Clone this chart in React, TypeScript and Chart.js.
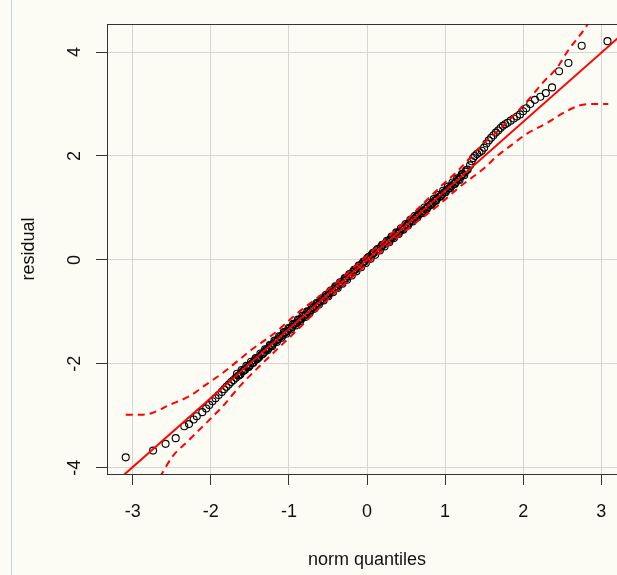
import React, { useEffect, useRef } from "react";
import { Chart, registerables } from "chart.js";

Chart.register(...registerables);

// Sample quantiles (sorted residuals) against theoretical normal quantiles
const lowerTailX = [-3.09, -2.74, -2.58, -2.45, -2.34, -2.28, -2.22, -2.18, -2.11, -2.06, -2.02, -1.98, -1.94, -1.9, -1.86, -1.83, -1.8, -1.77, -1.74, -1.71];
const lowerTailY = [-3.8, -3.67, -3.54, -3.43, -3.2, -3.16, -3.07, -3.01, -2.93, -2.86, -2.79, -2.72, -2.66, -2.6, -2.54, -2.49, -2.44, -2.4, -2.35, -2.31];

const bodyX = [
  -1.68, -1.65, -1.62, -1.59, -1.56, -1.53, -1.5, -1.47, -1.44, -1.41,
  -1.38, -1.35, -1.32, -1.29, -1.26, -1.23, -1.2, -1.17, -1.14, -1.11,
  -1.08, -1.05, -1.02, -0.99, -0.96, -0.93, -0.9, -0.87, -0.84, -0.81,
  -0.78, -0.75, -0.72, -0.69, -0.66, -0.63, -0.6, -0.57, -0.54, -0.51,
  -0.48, -0.45, -0.42, -0.39, -0.36, -0.33, -0.3, -0.27, -0.24, -0.21,
  -0.18, -0.15, -0.12, -0.09, -0.06, -0.03, 0.0, 0.03, 0.06, 0.09,
  0.12, 0.15, 0.18, 0.21, 0.24, 0.27, 0.3, 0.33, 0.36, 0.39,
  0.42, 0.45, 0.48, 0.51, 0.54, 0.57, 0.6, 0.63, 0.66, 0.69,
  0.72, 0.75, 0.78, 0.81, 0.84, 0.87, 0.9, 0.93, 0.96, 0.99,
  1.02, 1.05, 1.08, 1.11, 1.14, 1.17, 1.2, 1.23, 1.26, 1.29,
];
const bodyY = [
  -2.27, -2.23, -2.2, -2.14, -2.11, -2.06, -2.03, -1.99, -1.93, -1.91,
  -1.87, -1.82, -1.78, -1.73, -1.7, -1.65, -1.61, -1.56, -1.53, -1.48,
  -1.45, -1.4, -1.37, -1.32, -1.29, -1.24, -1.21, -1.16, -1.13, -1.08,
  -1.05, -1.0, -0.97, -0.92, -0.89, -0.84, -0.8, -0.77, -0.72, -0.69,
  -0.64, -0.6, -0.56, -0.52, -0.48, -0.44, -0.4, -0.36, -0.31, -0.27,
  -0.23, -0.19, -0.15, -0.11, -0.07, -0.03, 0.02, 0.06, 0.1, 0.14,
  0.18, 0.21, 0.25, 0.29, 0.32, 0.36, 0.4, 0.44, 0.47, 0.51,
  0.55, 0.59, 0.63, 0.67, 0.71, 0.75, 0.79, 0.83, 0.87, 0.91,
  0.94, 0.98, 1.02, 1.06, 1.1, 1.14, 1.18, 1.22, 1.26, 1.3,
  1.34, 1.38, 1.42, 1.46, 1.5, 1.55, 1.6, 1.65, 1.7, 1.74,
];

// interleaved observations of the dense central part
const bodyX2 = [
  -1.665, -1.635, -1.605, -1.575, -1.545, -1.515, -1.485, -1.455, -1.425, -1.395,
  -1.365, -1.335, -1.305, -1.275, -1.245, -1.215, -1.185, -1.155, -1.125, -1.095,
  -1.065, -1.035, -1.005, -0.975, -0.945, -0.915, -0.885, -0.855, -0.825, -0.795,
  -0.765, -0.735, -0.705, -0.675, -0.645, -0.615, -0.585, -0.555, -0.525, -0.495,
  -0.465, -0.435, -0.405, -0.375, -0.345, -0.315, -0.285, -0.255, -0.225, -0.195,
  -0.165, -0.135, -0.105, -0.075, -0.045, -0.015, 0.015, 0.045, 0.075, 0.105,
  0.135, 0.165, 0.195, 0.225, 0.255, 0.285, 0.315, 0.345, 0.375, 0.405,
  0.435, 0.465, 0.495, 0.525, 0.555, 0.585, 0.615, 0.645, 0.675, 0.705,
  0.735, 0.765, 0.795, 0.825, 0.855, 0.885, 0.915, 0.945, 0.975, 1.005,
  1.035, 1.065, 1.095, 1.125, 1.155, 1.185, 1.215, 1.245, 1.275,
];
const bodyY2 = [
  -2.19, -2.22, -2.12, -2.13, -2.04, -2.06, -1.96, -1.98, -1.89, -1.89,
  -1.8, -1.81, -1.72, -1.74, -1.64, -1.66, -1.55, -1.58, -1.47, -1.5,
  -1.39, -1.42, -1.31, -1.34, -1.23, -1.26, -1.15, -1.18, -1.07, -1.1,
  -0.99, -1.02, -0.91, -0.94, -0.83, -0.86, -0.75, -0.78, -0.67, -0.7,
  -0.59, -0.62, -0.51, -0.54, -0.43, -0.46, -0.35, -0.38, -0.27, -0.3,
  -0.19, -0.22, -0.11, -0.14, -0.03, -0.06, 0.05, 0.02, 0.13, 0.1,
  0.21, 0.18, 0.29, 0.26, 0.37, 0.34, 0.45, 0.42, 0.53, 0.5,
  0.61, 0.58, 0.69, 0.66, 0.77, 0.74, 0.85, 0.82, 0.93, 0.9,
  1.01, 0.98, 1.09, 1.06, 1.17, 1.14, 1.25, 1.22, 1.33, 1.3,
  1.41, 1.38, 1.49, 1.46, 1.57, 1.54, 1.65, 1.63, 1.73,
];

const upperTailX = [1.32, 1.34, 1.36, 1.38, 1.41, 1.44, 1.47, 1.5, 1.53, 1.56, 1.59, 1.62, 1.65, 1.68, 1.71, 1.74, 1.77, 1.8, 1.84, 1.88, 1.92, 1.96, 2.0, 2.04, 2.09, 2.15, 2.22, 2.29, 2.37, 2.46, 2.58, 2.75, 3.08];
const upperTailY = [1.82, 1.9, 1.96, 2.0, 2.04, 2.07, 2.1, 2.16, 2.24, 2.3, 2.35, 2.4, 2.45, 2.49, 2.54, 2.58, 2.61, 2.64, 2.68, 2.72, 2.76, 2.8, 2.86, 2.92, 3.0, 3.08, 3.14, 3.21, 3.32, 3.63, 3.79, 4.12, 4.21];

// Reference line
const refLineX = [-3.5, 3.5];
const refLineY = [-4.65, 4.65];

// Confidence envelope
const upperBandX = [-3.09, -2.9, -2.76, -2.53, -2.27, -2.08, -1.86, -1.48, -1.16, -0.92, -0.5, 0.0, 0.5, 0.92, 1.16, 1.48, 1.66, 1.86, 2.06, 2.27, 2.43, 2.58, 2.76, 2.9, 3.08];
const upperBandY = [-2.98, -2.98, -2.95, -2.79, -2.62, -2.42, -2.19, -1.73, -1.38, -1.06, -0.57, 0.08, 0.76, 1.38, 1.71, 2.22, 2.46, 2.75, 3.07, 3.44, 3.69, 4.04, 4.39, 4.7, 5.1];
const lowerBandX = [-3.09, -2.74, -2.63, -2.49, -2.29, -2.1, -1.85, -1.61, -1.2, -0.9, -0.5, 0.0, 0.5, 0.92, 1.2, 1.48, 1.66, 1.85, 2.06, 2.3, 2.54, 2.72, 2.9, 3.09];
const lowerBandY = [-5.4, -4.39, -4.12, -3.78, -3.48, -3.2, -2.82, -2.4, -1.79, -1.36, -0.76, -0.08, 0.57, 1.06, 1.42, 1.74, 1.99, 2.21, 2.44, 2.63, 2.85, 2.97, 3.0, 3.0];

const xTicks = [-3, -2, -1, 0, 1, 2, 3];
const xTickLabels = ["-3", "-2", "-1", "0", "1", "2", "3"];
const yTicks = [-4, -2, 0, 2, 4];
const yTickLabels = ["-4", "-2", "0", "2", "4"];
const xTitle = "norm quantiles";
const yTitle = "residual";

const toPoints = (xs: number[], ys: number[]) => xs.map((x, i) => ({ x, y: ys[i] }));

export default function App() {
  const ref = useRef<HTMLCanvasElement>(null);

  useEffect(() => {
    const canvas = ref.current;
    if (!canvas) return;
    const font = '18px "Liberation Sans", Arial, sans-serif';

    const decor = {
      id: "decor",
      afterDraw(chart: any) {
        const { ctx, chartArea: a, scales } = chart;
        const xs = scales.x;
        const ys = scales.y;
        ctx.save();
        ctx.strokeStyle = "#333";
        ctx.lineWidth = 1;
        ctx.strokeRect(Math.round(a.left) + 0.5, Math.round(a.top) + 0.5, a.right - a.left, a.bottom - a.top);
        ctx.fillStyle = "#111";
        ctx.font = font;
        ctx.textBaseline = "alphabetic";
        ctx.textAlign = "center";
        xTicks.forEach((v, i) => {
          ctx.fillText(xTickLabels[i], xs.getPixelForValue(v), 517);
        });
        yTicks.forEach((v, i) => {
          ctx.save();
          ctx.translate(80, ys.getPixelForValue(v));
          ctx.rotate(-Math.PI / 2);
          ctx.fillText(yTickLabels[i], 0, 0);
          ctx.restore();
        });
        ctx.fillText(xTitle, (a.left + a.right) / 2, 565);
        ctx.save();
        ctx.translate(34, (a.top + a.bottom) / 2);
        ctx.rotate(-Math.PI / 2);
        ctx.fillText(yTitle, 0, 0);
        ctx.restore();
        ctx.restore();
      },
    };

    const chart = new Chart(canvas, {
      type: "scatter",
      data: {
        datasets: [
          {
            label: "residuals",
            data: [
              ...toPoints(lowerTailX, lowerTailY),
              ...toPoints(bodyX, bodyY),
              ...toPoints(bodyX2, bodyY2),
              ...toPoints(upperTailX, upperTailY),
            ],
            pointStyle: "circle",
            pointRadius: 3.5,
            pointBorderWidth: 1.1,
            borderColor: "#000",
            backgroundColor: "rgba(0,0,0,0)",
            showLine: false,
            order: 3,
          } as any,
          {
            label: "line",
            data: toPoints(refLineX, refLineY),
            showLine: true,
            borderColor: "#ff0000",
            borderWidth: 2,
            pointRadius: 0,
            order: 1,
          } as any,
          {
            label: "upper",
            data: toPoints(upperBandX, upperBandY),
            showLine: true,
            borderColor: "#ff0000",
            borderWidth: 2,
            borderDash: [7, 5],
            cubicInterpolationMode: "monotone",
            pointRadius: 0,
            order: 2,
          } as any,
          {
            label: "lower",
            data: toPoints(lowerBandX, lowerBandY),
            showLine: true,
            borderColor: "#ff0000",
            borderWidth: 2,
            borderDash: [7, 5],
            cubicInterpolationMode: "monotone",
            pointRadius: 0,
            order: 2,
          } as any,
        ],
      },
      options: {
        responsive: false,
        animation: false,
        devicePixelRatio: 1,
        layout: { padding: { top: 24, right: 13, left: 0, bottom: 0 } },
        plugins: { legend: { display: false }, tooltip: { enabled: false } },
        scales: {
          x: {
            type: "linear",
            min: -3.33,
            max: 3.33,
            ticks: { stepSize: 1, includeBounds: false, display: false },
            grid: { color: "#d6d6d6", lineWidth: 1, tickColor: "#333", tickLength: 11, tickWidth: 1 },
            border: { display: false },
            afterFit: (s: any) => { s.height = 101; },
          },
          y: {
            type: "linear",
            min: -4.12,
            max: 4.54,
            ticks: { stepSize: 2, includeBounds: false, display: false },
            grid: { color: "#d6d6d6", lineWidth: 1, tickColor: "#333", tickLength: 11, tickWidth: 1 },
            border: { display: false },
            afterFit: (s: any) => { s.width = 107; },
          },
        },
      } as any,
      plugins: [decor],
    });
    return () => chart.destroy();
  }, []);

  return (
    <div style={{ position: "fixed", left: 0, top: 0, width: 617, height: 575, overflow: "hidden", background: "#fcfcf5" }}>
      <div style={{ position: "absolute", left: 11, top: 0, width: 1, height: 575, background: "#c4d3e8" }} />
      <canvas ref={ref} width={640} height={575} style={{ position: "absolute", left: 0, top: 0 }} />
    </div>
  );
}
